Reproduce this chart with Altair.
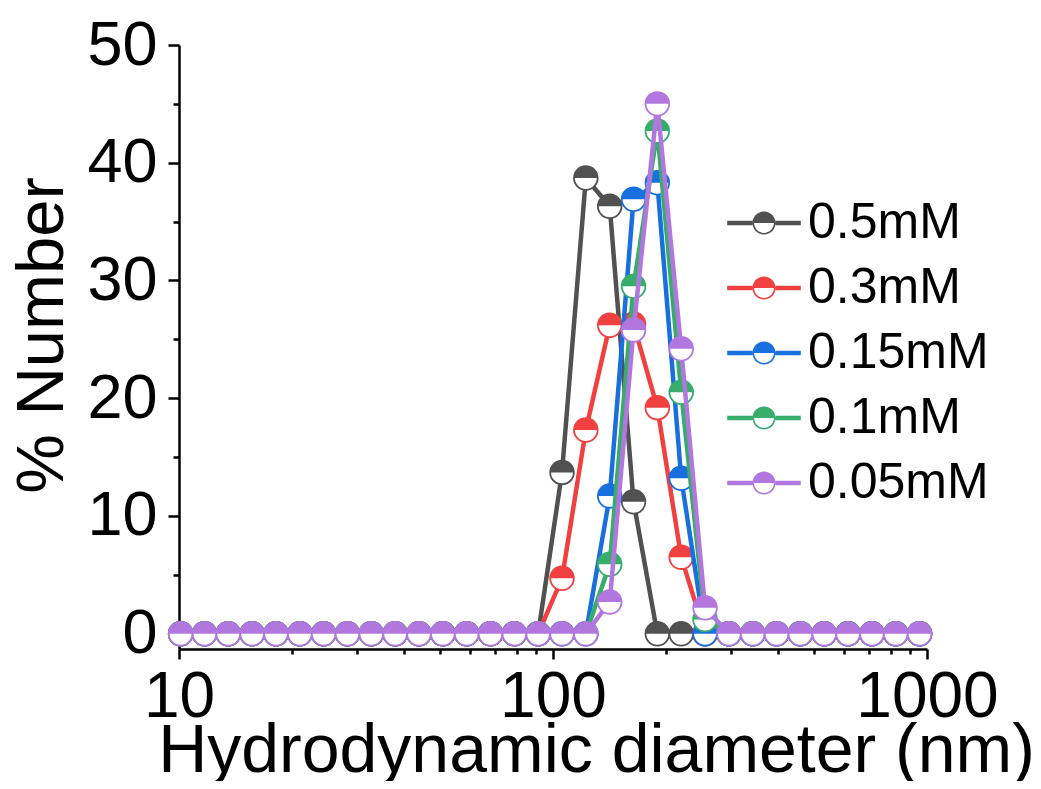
import altair as alt
import pandas as pd

# DLS size bins (nm)
diameter_nm = [10.1, 11.7, 13.54, 15.69, 18.17, 21.04, 24.36, 28.21, 32.67, 37.84,
               43.82, 50.75, 58.77, 68.06, 78.82, 91.28, 105.7, 122.4, 141.8, 164.2,
               190.1, 220.2, 255.0, 295.3, 342.0, 396.1, 458.7, 531.2, 615.1, 712.4,
               825.0, 955.4]

series_names = ["0.5mM", "0.3mM", "0.15mM", "0.1mM", "0.05mM"]
series_colors = ["#515151", "#F14040", "#1A6FDF", "#37AD6B", "#B177DE"]

number_05 = [0, 0, 0, 0, 0, 0, 0, 0, 0, 0, 0, 0, 0, 0, 0, 0,
             13.7, 38.7, 36.3, 11.2, 0, 0, 0, 0, 0, 0, 0, 0, 0, 0, 0, 0]
number_03 = [0, 0, 0, 0, 0, 0, 0, 0, 0, 0, 0, 0, 0, 0, 0, 0,
             4.7, 17.3, 26.2, 26.3, 19.2, 6.5, 0, 0, 0, 0, 0, 0, 0, 0, 0, 0]
number_015 = [0, 0, 0, 0, 0, 0, 0, 0, 0, 0, 0, 0, 0, 0, 0, 0,
              0, 0, 11.7, 36.9, 38.3, 13.2, 0, 0, 0, 0, 0, 0, 0, 0, 0, 0]
number_01 = [0, 0, 0, 0, 0, 0, 0, 0, 0, 0, 0, 0, 0, 0, 0, 0,
             0, 0, 5.9, 29.5, 42.7, 20.5, 1.2, 0, 0, 0, 0, 0, 0, 0, 0, 0]
number_005 = [0, 0, 0, 0, 0, 0, 0, 0, 0, 0, 0, 0, 0, 0, 0, 0,
              0, 0, 2.7, 25.8, 45.0, 24.2, 2.2, 0, 0, 0, 0, 0, 0, 0, 0, 0]

x_tick_values = [10, 20, 30, 40, 50, 60, 70, 80, 90, 100, 200, 300, 400, 500,
                 600, 700, 800, 900, 1000]
y_tick_values = [0, 5, 10, 15, 20, 25, 30, 35, 40, 45, 50]

all_series = [number_05, number_03, number_015, number_01, number_005]
rows = []
for name, vals in zip(series_names, all_series):
    for d, v in zip(diameter_nm, vals):
        rows.append({"d": d, "v": v, "s": name})
df = pd.DataFrame(rows)

FONT = "Liberation Sans"
HALF_UP = "M-1,0 A1,1 0 0 1 1,0 Z"
LEGEND_SYMBOL = (
    "M-1.6,-0.1 L-0.5,-0.1 L-0.5,0.1 L-1.6,0.1 Z "
    "M0.5,-0.1 L1.6,-0.1 L1.6,0.1 L0.5,0.1 Z "
    "M-0.5,0 A0.5,0.5 0 0 1 0.5,0 Z "
    "M0.5,0 A0.5,0.5 0 0 1 -0.5,0 L-0.43,0 A0.43,0.43 0 0 0 0.43,0 Z"
)

xscale = alt.Scale(type="log", domain=[10, 1000], nice=False)
yscale = alt.Scale(domain=[-1.3, 50], nice=False, zero=False)
cscale = alt.Scale(domain=series_names, range=series_colors)

x_major_test = "datum.value == 10 || datum.value == 100 || datum.value == 1000"
y_major_test = "datum.value % 10 == 0"

X = alt.X(
    "d:Q", scale=xscale,
    axis=alt.Axis(
        values=x_tick_values,
        title="Hydrodynamic diameter (nm)",
        labelExpr="(" + x_major_test + ") ? format(datum.value, 'd') : ''",
        tickSize={"condition": {"test": x_major_test, "value": 10}, "value": 5},
        labelOverlap=False,
        labelFontSize=64,
        labelBaseline="alphabetic",
        labelPadding=57,
        labelFlush=False,
        titleFontSize=68,
        titleX=417,
        titleY=122,
        titleBaseline="alphabetic",
        titleAlign="center",
    ),
)
Y = alt.Y(
    "v:Q", scale=yscale,
    axis=alt.Axis(
        values=y_tick_values,
        title="% Number",
        labelExpr="(" + y_major_test + ") ? format(datum.value, 'd') : ''",
        tickSize={"condition": {"test": y_major_test, "value": 11}, "value": 6},
        labelOverlap=False,
        labelFontSize=63,
        labelPadding=11,
        labelFlush=False,
        titleFontSize=67,
        titleX=-117,
        titleY=290,
        titleAngle=-90,
        titleBaseline="alphabetic",
        titleAlign="center",
    ),
)

LEG = alt.Legend(
    title=None, orient="none", legendX=560, legendY=153,
    symbolType=LEGEND_SYMBOL, symbolSize=2116, symbolStrokeWidth=0,
    symbolOpacity=1, labelFont=FONT, labelFontSize=50, labelOffset=19,
    labelLimit=0, rowPadding=15, padding=0, labelColor="black",
)

layers = []
for name in series_names:
    base = alt.Chart(df).transform_filter(alt.datum.s == name)
    line = base.mark_line(strokeWidth=4.5, strokeJoin="round", strokeCap="round").encode(
        x=X, y=Y, stroke=alt.Stroke("s:N", scale=cscale, legend=LEG)
    )
    circ = base.mark_point(shape="circle", filled=True, fill="white", size=560,
                           strokeWidth=1.8, opacity=1).encode(
        x=X, y=Y, stroke=alt.Stroke("s:N", scale=cscale, legend=LEG)
    )
    half = base.mark_point(shape=HALF_UP, filled=True, size=560, strokeWidth=0,
                           opacity=1).encode(
        x=X, y=Y, fill=alt.Fill("s:N", scale=cscale, legend=LEG)
    )
    layers += [line, circ, half]

chart = alt.layer(*layers).properties(
    width=748, height=604, autosize="none",
    padding={"left": 171, "top": 37, "right": 106, "bottom": 132},
).configure_view(stroke=None).configure_axis(
    grid=False, domainColor="black", domainWidth=2.5, tickColor="black",
    tickWidth=2.5, labelColor="black", titleColor="black", labelFont=FONT,
    titleFont=FONT, titleFontWeight="normal",
).configure_legend(labelFont=FONT)

chart.save("out.html", embed_options={"renderer": "svg", "actions": False})
